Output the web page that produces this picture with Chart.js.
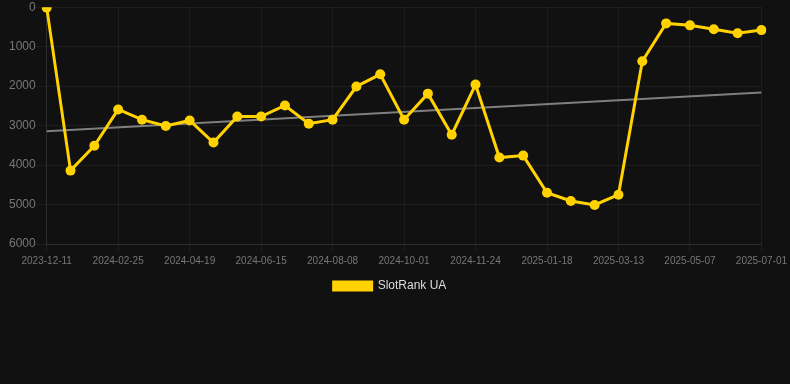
<!DOCTYPE html>
<html>
<head>
<meta charset="utf-8">
<script src="https://cdn.jsdelivr.net/npm/chart.js@4/dist/chart.umd.min.js"></script>
<style>
  html, body { margin: 0; padding: 0; background: #111111; }
  #wrap { position: relative; width: 790px; height: 302px; }
</style>
</head>
<body>
<div id="wrap"><canvas id="c"></canvas></div>
<script>
const categories = [
  "2023-12-11","2024-01-18","2024-02-07","2024-02-25","2024-03-14","2024-04-01",
  "2024-04-19","2024-05-08","2024-05-27","2024-06-15","2024-07-03","2024-07-21",
  "2024-08-08","2024-08-26","2024-09-13","2024-10-01","2024-10-19","2024-11-06",
  "2024-11-24","2024-12-12","2024-12-31","2025-01-18","2025-02-05","2025-02-23",
  "2025-03-13","2025-04-01","2025-04-19","2025-05-07","2025-05-25","2025-06-13",
  "2025-07-01"
];
const slotRankUA = [
  10, 4140, 3510, 2590, 2850, 3010, 2870, 3430, 2770, 2770, 2490, 2950,
  2850, 2010, 1700, 2850, 2190, 3230, 1960, 3810, 3760, 4700, 4910, 5010,
  4750, 1370, 410, 460, 560, 660, 580
];
const trendStart = 3145;
const trendEnd = 2160;
const trend = categories.map((_, i) => i === 0 ? trendStart : (i === categories.length - 1 ? trendEnd : null));
const yTicks = { min: 0, max: 6000, step: 1000 };

const bgPlugin = {
  id: 'bg',
  beforeDraw(chart) {
    const ctx = chart.ctx;
    ctx.save();
    ctx.fillStyle = '#111111';
    ctx.fillRect(0, 0, chart.width, chart.height);
    ctx.restore();
  }
};

new Chart(document.getElementById('c'), {
  type: 'line',
  data: {
    labels: categories,
    datasets: [
      {
        label: 'SlotRank UA',
        data: slotRankUA,
        borderColor: '#FFD200',
        backgroundColor: '#FFD200',
        borderWidth: 3,
        pointRadius: 5,
        pointBorderWidth: 0,
        pointHoverRadius: 5,
        pointBackgroundColor: '#FFD200',
        pointBorderColor: '#FFD200',
        tension: 0,
        order: 1
      },
      {
        label: 'trend',
        data: trend,
        borderColor: 'rgba(140,140,140,0.9)',
        backgroundColor: 'rgba(140,140,140,0.9)',
        borderWidth: 2,
        pointRadius: 0,
        spanGaps: true,
        tension: 0,
        order: 2
      }
    ]
  },
  options: {
    responsive: true,
    maintainAspectRatio: false,
    animation: false,
    layout: { padding: { left: 9, right: 19 } },
    plugins: {
      legend: {
        position: 'bottom',
        labels: {
          color: '#dddddd',
          font: { size: 12 },
          boxWidth: 38,
          boxHeight: 8,
          filter: (item) => item.text === 'SlotRank UA'
        }
      },
      tooltip: { enabled: false }
    },
    scales: {
      x: {
        grid: { color: 'rgba(255,255,255,0.05)' },
        border: { color: 'rgba(255,255,255,0.08)' },
        ticks: {
          color: '#777777',
          font: { size: 10 },
          maxRotation: 0,
          autoSkip: true,
          maxTicksLimit: 11
        }
      },
      y: {
        reverse: true,
        min: yTicks.min,
        max: yTicks.max,
        grid: { color: 'rgba(255,255,255,0.05)', tickLength: 11 },
        border: { color: 'rgba(255,255,255,0.08)' },
        ticks: {
          stepSize: yTicks.step,
          padding: 0,
          color: '#777777',
          font: { size: 12 },
          callback: (v) => String(v)
        }
      }
    }
  },
  plugins: [bgPlugin]
});
</script>
</body>
</html>
